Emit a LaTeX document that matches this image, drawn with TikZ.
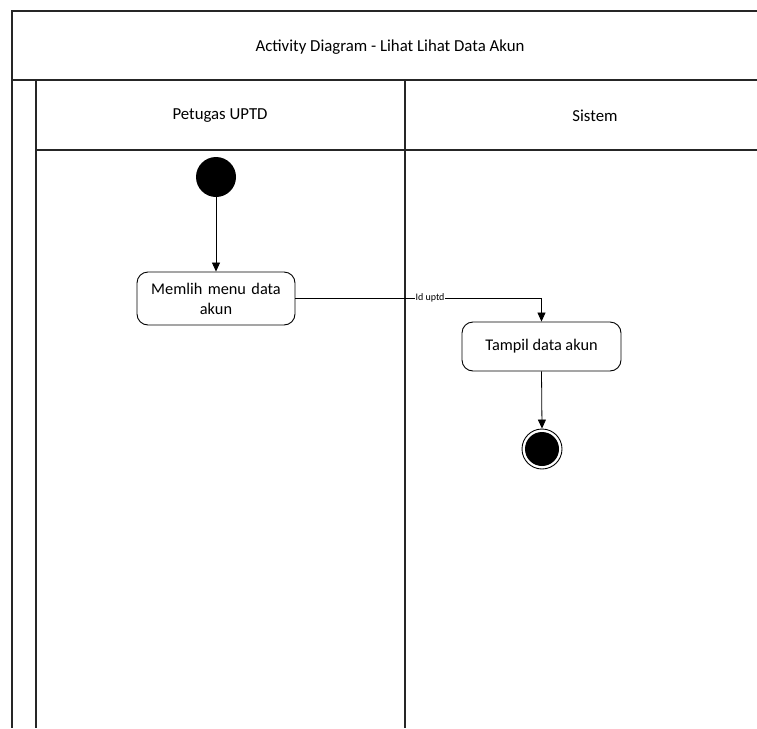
\documentclass[tikz,border=0pt]{standalone}
\usepackage{fontspec}
\setmainfont{Carlito}
\usetikzlibrary{arrows.meta,positioning}
\begin{document}
\begin{tikzpicture}[x=1pt,y=-1pt,
  frame/.style={line width=1.1pt,draw=black!85},
  act/.style={draw,line width=0.9pt,rounded corners=11pt,align=center,font=\fontsize{16.3}{20}\selectfont,inner sep=0pt},
  flow/.style={line width=0.8pt,-{Triangle[length=9pt,width=8pt]}},
  lane/.style={font=\fontsize{16.8}{19}\selectfont}]
\useasboundingbox (0,0) rectangle (757,728);
\fill[white] (0,0) rectangle (757,728);
% frame
\draw[frame] (757,11) -- (12,11) -- (12,728);
\draw[frame] (12,80) -- (757,80);
\draw[frame] (36,80) -- (36,728);
\draw[frame] (36,150) -- (757,150);
\draw[frame] (405,80) -- (405,728);
\node[lane] (title) at (390,47) {Activity Diagram - Lihat Lihat Data Akun};
\node[lane] (lane1) at (220,116) {Petugas UPTD};
\node[lane] (lane2) at (595,116) {Sistem};
% nodes
\node[circle,fill=black,minimum size=40pt,inner sep=0pt] (start) at (216,177) {};
\node[act,minimum width=158pt,minimum height=53pt,text width=156pt] (a1) at (216,298.5) {Memlih menu data\\akun};
\node[act,minimum width=159pt,minimum height=49pt] (a2) at (541.5,346.5) {\raisebox{-3pt}{Tampil data akun}};
\node[circle,draw,line width=0.9pt,minimum size=40pt,inner sep=0pt] (end) at (542,449) {};
\node[circle,fill=black,minimum size=34pt,inner sep=0pt] (endin) at (end.center) {};
% connectors
\draw[flow] (start) -- (a1);
\draw[flow] (a1.east) -- (a1.east -| a2.north) -- (a2.north);
\node[fill=white,inner sep=0.5pt,font=\fontsize{10}{11}\selectfont] (lbl) at (430,298) {Id uptd};
\draw[flow] (a2.south) -- (end.north);
\end{tikzpicture}
\end{document}
